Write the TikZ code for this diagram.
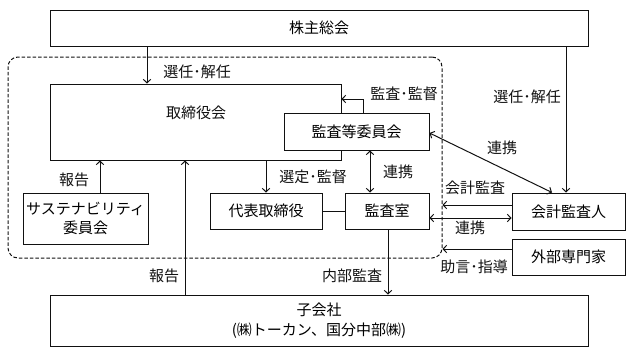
\documentclass[tikz,border=0pt]{standalone}
\usepackage{fontspec}
\setmainfont{Noto Sans CJK JP}
\usepackage{tikz}
\usetikzlibrary{arrows.meta,positioning,calc}
\definecolor{ink}{HTML}{111111}
\tikzset{
  block/.style={draw=ink, fill=white, line width=1pt, inner sep=0pt,
                align=center, font=\fontsize{15}{19.5}\selectfont},
  note/.style={inner sep=0pt, font=\fontsize{15}{19}\selectfont, text=ink},
  group/.style={draw=ink, dash pattern=on 3.5pt off 2pt, line width=1pt,
                rounded corners=10pt, inner sep=0pt},
  arrow/.style={-{Straight Barb[length=3.5pt,width=7.5pt]}, line width=1pt, draw=ink},
  dblarrow/.style={{Straight Barb[length=3.5pt,width=7.5pt]}-{Straight Barb[length=3.5pt,width=7.5pt]},
                   line width=1pt, draw=ink},
  link/.style={line width=1pt, draw=ink}
}
\begin{document}
\begin{tikzpicture}[x=1pt,y=-1pt]
    \useasboundingbox (0,0) rectangle (635,351);

    % Company frame
    \node[group, minimum width=434pt, minimum height=201pt] (frame) at (225,157.5) {};

    % Boxes
    \node[block, minimum width=538pt, minimum height=36pt] (gm) at (319,28) {株主総会};
    \node[block, minimum width=291pt, minimum height=76pt] (board) at (195.5,122) {};
    \node[note] (boardtext) at (196,113) {取締役会};
    \node[block, minimum width=145pt, minimum height=37pt] (acm) at (356.5,131.5) {監査等委員会};
    \node[block, minimum width=125pt, minimum height=51pt] (sus) at (85.5,218.5)
      {サステナビリティ\\委員会};
    \node[block, minimum width=112pt, minimum height=36pt] (rep) at (266,211) {代表取締役};
    \node[block, minimum width=84pt, minimum height=36pt] (audit) at (387,211) {監査室};
    \node[block, minimum width=113pt, minimum height=37pt] (extaud) at (568.5,211.5) {会計監査人};
    \node[block, minimum width=113pt, minimum height=36pt] (expert) at (568.5,257) {外部専門家};
    \node[block, minimum width=538pt, minimum height=51pt] (sub) at (319,320.5)
      {子会社\\(㈱トーカン、国分中部㈱)};

    % Connectors
    \draw[arrow] (gm.south -| 147,0) -- (board.north -| 147,0);
    \draw[arrow] (gm.south -| 566,0) -- (extaud.north -| 566,0);
    \draw[arrow] (acm.north -| 363,0) |- (board.east |- 0,99);
    \draw[arrow] (board.south -| rep.north) -- (rep.north);
    \draw[arrow] (sus.north -| 100,0) -- (board.south -| 100,0);
    \draw[arrow] (sub.north -| 185,0) -- (board.south -| 185,0);
    \draw[dblarrow] (acm.south -| 370,0) -- (audit.north -| 370,0);
    \draw[link] (rep.east) -- (audit.west);
    \draw[arrow] (audit.south -| 388,0) -- (sub.north -| 388,0);
    \draw[arrow] (extaud.west |- 0,205) -- (frame.east |- 0,205);
    \draw[dblarrow] (audit.east |- 0,218) -- (extaud.west |- 0,218);
    \draw[arrow] (expert.west |- 0,249) -- (frame.east |- 0,249);
    \draw[dblarrow] (acm.east |- 0,133) -- (extaud.north -| 552,0);

    % Labels
    \node[note] (l1) at (197,72) {選任･解任};
    \node[note] (l2) at (527,97) {選任･解任};
    \node[note] (l3) at (404,94) {監査･監督};
    \node[note] (l4) at (502,148) {連携};
    \node[note] (l5) at (398,172) {連携};
    \node[note] (l6) at (313,177) {選定･監督};
    \node[note] (l7) at (74,180) {報告};
    \node[note] (l8) at (475,188) {会計監査};
    \node[note] (l9) at (470,228) {連携};
    \node[note] (l10) at (474,267) {助言･指導};
    \node[note] (l11) at (164,276) {報告};
    \node[note] (l12) at (352,276) {内部監査};
\end{tikzpicture}
\end{document}
